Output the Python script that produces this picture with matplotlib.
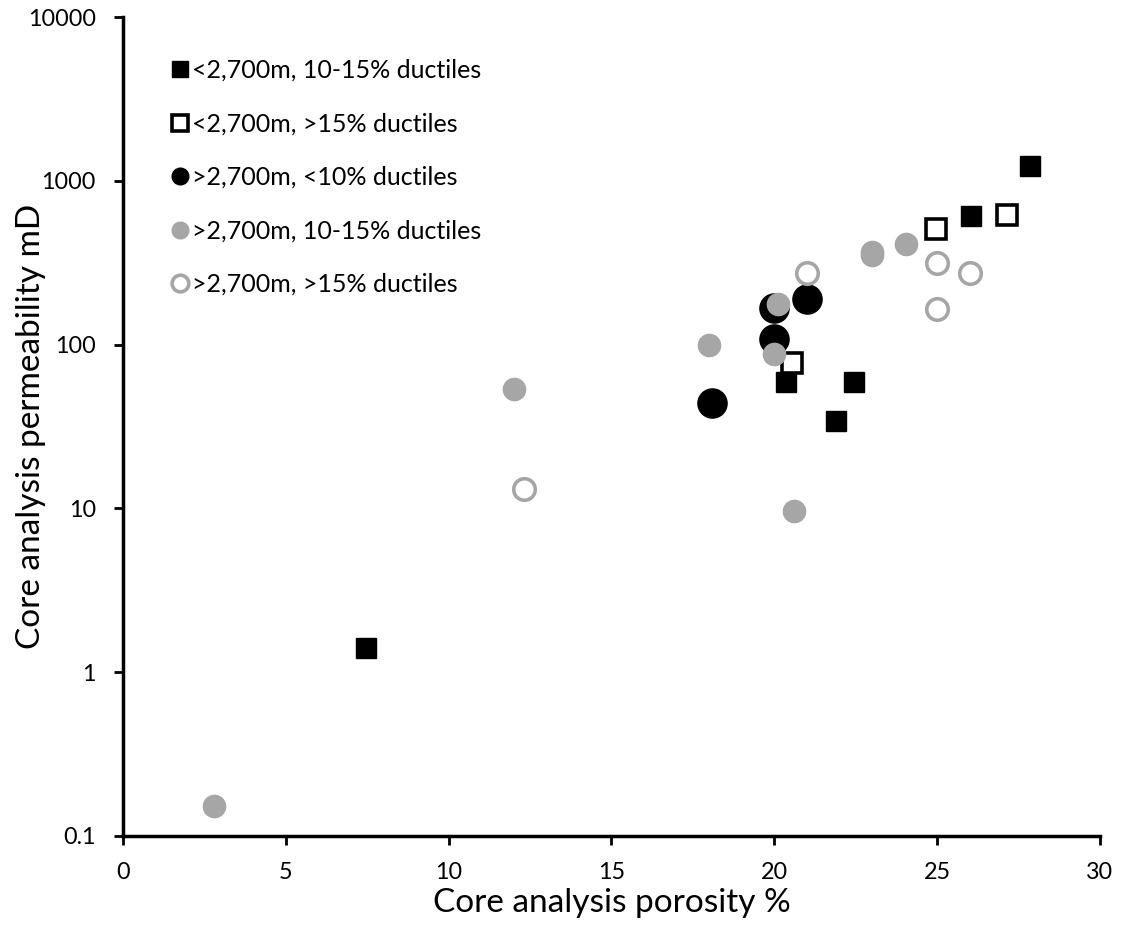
import matplotlib
matplotlib.use("Agg")
import matplotlib.pyplot as plt
from matplotlib.ticker import FixedLocator, FixedFormatter, NullLocator

plt.rcParams['font.family'] = ['Lato', 'DejaVu Sans']

# Data (porosity %, permeability mD)
sq_fill_x = [27.85, 26.05, 20.35, 22.45, 21.9, 7.45]
sq_fill_y = [1230, 610, 59, 59.5, 34, 1.4]

sq_open_x = [27.15, 24.95, 20.55]
sq_open_y = [618, 505, 77]

circ_black_x = [20.0, 21.0, 20.0, 18.1]
circ_black_y = [168, 189, 108, 44]

circ_grey_x = [24.05, 23.0, 23.0, 20.1, 18.0, 20.0, 12.0, 20.6, 2.8]
circ_grey_y = [411, 369, 351, 177, 100, 88, 53.5, 9.6, 0.152]

circ_open_x = [21.0, 25.0, 26.0, 25.0, 12.3]
circ_open_y = [272, 313, 272, 165, 13.1]

labels = ["<2,700m, 10-15% ductiles",
          "<2,700m, >15% ductiles",
          ">2,700m, <10% ductiles",
          ">2,700m, 10-15% ductiles",
          ">2,700m, >15% ductiles"]

xticks = [0, 5, 10, 15, 20, 25, 30]
yticks = [0.1, 1, 10, 100, 1000, 10000]
ytick_labels = ["0.1", "1", "10", "100", "1000", "10000"]

grey = "#a6a6a6"

fig = plt.figure(figsize=(11.26, 9.35), dpi=100)
ax = fig.add_axes([0.1092, 0.1059, 0.8677, 0.8759])

ax.plot(sq_fill_x, sq_fill_y, ls='none', marker='s', ms=14.5, mfc='black', mec='black', label=labels[0], zorder=3)
ax.plot(sq_open_x, sq_open_y, ls='none', marker='s', ms=14.5, mfc='white', mec='black', mew=2.6, label=labels[1], zorder=3)
ax.plot(circ_black_x, circ_black_y, ls='none', marker='o', ms=21, mfc='black', mec='black', label=labels[2], zorder=3)
ax.plot(circ_grey_x, circ_grey_y, ls='none', marker='o', ms=16, mfc=grey, mec=grey, label=labels[3], zorder=4)
ax.plot(circ_open_x, circ_open_y, ls='none', marker='o', ms=15.5, mfc='white', mec=grey, mew=2.6, label=labels[4], zorder=3)

ax.set_yscale('log')
ax.set_xlim(0, 30)
ax.set_ylim(0.1, 10000)
ax.xaxis.set_major_locator(FixedLocator(xticks))
ax.yaxis.set_major_locator(FixedLocator(yticks))
ax.yaxis.set_major_formatter(FixedFormatter(ytick_labels))
ax.yaxis.set_minor_locator(NullLocator())

for s in ['top', 'right']:
    ax.spines[s].set_visible(False)
for s in ['left', 'bottom']:
    ax.spines[s].set_linewidth(2.5)
ax.tick_params(axis='both', which='major', direction='out', length=6.5, width=2, labelsize=16.8)
ax.tick_params(axis='x', pad=12.5)
ax.tick_params(axis='y', pad=13)

ax.set_xlabel("Core analysis porosity %", fontsize=24, labelpad=3)
ax.set_ylabel("Core analysis permeability mD", fontsize=24)
ax.yaxis.set_label_coords(-0.079, 0.5)

leg = ax.legend(loc='upper left', bbox_to_anchor=(0.035, 0.961), frameon=False, fontsize=18,
                handletextpad=0.0, labelspacing=1.22, handlelength=1.0, borderaxespad=0)
for h in leg.legend_handles:
    h.set_markersize(12)

fig.savefig("out.png", dpi=100)
